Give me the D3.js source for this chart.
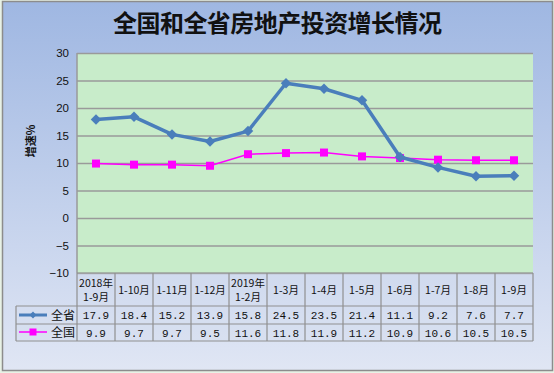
<!DOCTYPE html>
<html>
<head>
<meta charset="utf-8">
<script src="https://cdn.jsdelivr.net/npm/d3@7"></script>
<style>
  body { margin: 0; background: #ffffff; }
  svg { display: block; }
</style>
</head>
<body>
<div id="canvas"></div>
<script>
// periods (table header), two lines each where needed
var periods = [["2018年", "1-9月"], ["1-10月"], ["1-11月"], ["1-12月"], ["2019年", "1-2月"],
  ["1-3月"], ["1-4月"], ["1-5月"], ["1-6月"], ["1-7月"], ["1-8月"], ["1-9月"]];
var provValues = [17.9, 18.4, 15.2, 13.9, 15.8, 24.5, 23.5, 21.4, 11.1, 9.2, 7.6, 7.7];
var natValues = [9.9, 9.7, 9.7, 9.5, 11.6, 11.8, 11.9, 11.2, 10.9, 10.6, 10.5, 10.5];
var yTicks = [-10, -5, 0, 5, 10, 15, 20, 25, 30];

const W = 554, H = 373;
const plot = {left: 77, top: 53, right: 533, bottom: 273};
const tableLeft = 16;
const rowH = [33, 18, 17];

const svg = d3.select("#canvas").append("svg")
  .attr("width", W).attr("height", H);

const defs = svg.append("defs");
const grad = defs.append("linearGradient")
  .attr("id", "bg").attr("x1", 0).attr("y1", 0).attr("x2", 0).attr("y2", 1);
grad.append("stop").attr("offset", "0%").attr("stop-color", "#9fb7e2");
grad.append("stop").attr("offset", "100%").attr("stop-color", "#e0e6f4");

// outer frame
svg.append("rect").attr("x", 0).attr("y", 0).attr("width", W).attr("height", H).attr("fill", "#e8f2e6");
svg.append("rect")
  .attr("x", 2.5).attr("y", 1.5).attr("width", 550).attr("height", 369)
  .attr("fill", "url(#bg)").attr("stroke", "#8c8c8c").attr("stroke-width", 1.5);

// title
svg.append("text")
  .attr("x", 113).attr("y", 32)
  .attr("font-family", "'Noto Sans CJK SC'")
  .attr("font-weight", "bold")
  .attr("font-size", 24)
  .attr("textLength", 329)
  .attr("lengthAdjust", "spacing")
  .attr("fill", "#111")
  .text("全国和全省房地产投资增长情况");

const x = d3.scaleBand()
  .domain(d3.range(periods.length))
  .range([plot.left, plot.right]);

const y = d3.scaleLinear()
  .domain([-10, 30])
  .range([plot.bottom, plot.top]);

// plot area
svg.append("rect")
  .attr("x", plot.left).attr("y", plot.top)
  .attr("width", plot.right - plot.left).attr("height", plot.bottom - plot.top)
  .attr("fill", "#c8ecca");

// gridlines
svg.append("g")
  .attr("transform", "translate(" + plot.left + ",0)")
  .call(d3.axisLeft(y).tickValues(yTicks).tickSize(-(plot.right - plot.left)).tickFormat(""))
  .call(g => g.select(".domain").remove())
  .call(g => g.selectAll("line").attr("stroke", "#9a9a9a").attr("stroke-width", 1.5));

svg.append("line")
  .attr("x1", plot.left).attr("x2", plot.left)
  .attr("y1", plot.top).attr("y2", plot.bottom)
  .attr("stroke", "#9a9a9a").attr("stroke-width", 1.5);

// y axis labels
svg.append("g")
  .attr("transform", "translate(" + (plot.left - 8) + ",0)")
  .call(d3.axisLeft(y).tickValues(yTicks).tickSize(0).tickPadding(0))
  .call(g => g.select(".domain").remove())
  .call(g => g.selectAll("text")
    .attr("font-family", "'Liberation Sans', Arial")
    .attr("font-size", 11.5)
    .attr("fill", "#111"));

svg.append("text")
  .attr("transform", "translate(35,141) rotate(-90)")
  .attr("text-anchor", "middle")
  .attr("font-family", "'Noto Sans CJK SC'")
  .attr("font-weight", "bold")
  .attr("font-size", 11)
  .attr("fill", "#111")
  .text("增速%");

// lines
const line = d3.line()
  .x(function(d, i) { return x(i) + x.bandwidth() / 2; })
  .y(function(d) { return y(d); });

svg.append("path")
  .datum(natValues)
  .attr("d", line)
  .attr("fill", "none").attr("stroke", "#ff00ff").attr("stroke-width", 1.5);

svg.append("g").selectAll("rect")
  .data(natValues).enter().append("rect")
  .attr("x", function(d, i) { return x(i) + x.bandwidth() / 2 - 4; })
  .attr("y", function(d) { return y(d) - 4; })
  .attr("width", 8).attr("height", 8)
  .attr("fill", "#ff00ff");

svg.append("path")
  .datum(provValues)
  .attr("d", line)
  .attr("fill", "none").attr("stroke", "#4a7ebb").attr("stroke-width", 3.5)
  .attr("stroke-linejoin", "round");

svg.append("g").selectAll("path")
  .data(provValues).enter().append("path")
  .attr("d", d3.symbol().type(d3.symbolDiamond2).size(70))
  .attr("transform", function(d, i) {
    return "translate(" + (x(i) + x.bandwidth() / 2) + "," + y(d) + ")";
  })
  .attr("fill", "#4a7ebb");

// data table
const table = svg.append("g");
const tTop = plot.bottom;
const r1 = tTop + rowH[0], r2 = r1 + rowH[1], r3 = r2 + rowH[2];
const gridColor = "#8f8f8f";

table.append("rect")
  .attr("x", plot.left).attr("y", tTop)
  .attr("width", plot.right - plot.left).attr("height", r3 - tTop)
  .attr("fill", "#d4dcef").attr("fill-opacity", 0.35);
table.append("rect")
  .attr("x", tableLeft).attr("y", r1)
  .attr("width", plot.left - tableLeft).attr("height", r3 - r1)
  .attr("fill", "#d4dcef").attr("fill-opacity", 0.35);

function hline(x1, x2, yy) {
  table.append("line").attr("x1", x1).attr("x2", x2).attr("y1", yy).attr("y2", yy)
    .attr("stroke", gridColor).attr("stroke-width", 1.2);
}
function vline(xx, y1, y2) {
  table.append("line").attr("x1", xx).attr("x2", xx).attr("y1", y1).attr("y2", y2)
    .attr("stroke", gridColor).attr("stroke-width", 1.2);
}
hline(plot.left, plot.right, tTop);
hline(tableLeft, plot.right, r1);
hline(tableLeft, plot.right, r2);
hline(tableLeft, plot.right, r3);
vline(tableLeft, r1, r3);
periods.forEach(function(p, i) { vline(x(i), tTop, r3); });
vline(plot.right, tTop, r3);

// header text
periods.forEach(function(p, i) {
  const cx = x(i) + x.bandwidth() / 2;
  const t = table.append("text")
    .attr("text-anchor", "middle")
    .attr("font-family", "'Noto Sans CJK SC'")
    .attr("font-size", 10.5)
    .attr("fill", "#111");
  if (p.length === 2) {
    t.append("tspan").attr("x", cx).attr("y", tTop + 14).text(p[0]);
    t.append("tspan").attr("x", cx).attr("y", tTop + 28).text(p[1]);
  } else {
    t.append("tspan").attr("x", cx).attr("y", tTop + 21).text(p[0]);
  }
});

function rowText(vals, yy) {
  table.append("g").selectAll("text")
    .data(vals).enter().append("text")
    .attr("x", function(d, i) { return x(i) + x.bandwidth() / 2; })
    .attr("y", yy)
    .attr("text-anchor", "middle")
    .attr("font-family", "'Liberation Mono', monospace")
    .attr("font-size", 11)
    .attr("fill", "#111")
    .text(function(d) { return d3.format(".1f")(d); });
}
rowText(provValues, r1 + 13);
rowText(natValues, r2 + 12.5);

// legend keys in table
table.append("line").attr("x1", 19).attr("x2", 47).attr("y1", r1 + 9).attr("y2", r1 + 9)
  .attr("stroke", "#4a7ebb").attr("stroke-width", 3);
table.append("path").attr("d", d3.symbol().type(d3.symbolDiamond2).size(30))
  .attr("transform", "translate(33," + (r1 + 9) + ")").attr("fill", "#4a7ebb");
table.append("line").attr("x1", 19).attr("x2", 47).attr("y1", r2 + 8).attr("y2", r2 + 8)
  .attr("stroke", "#ff00ff").attr("stroke-width", 1.5);
table.append("rect").attr("x", 29.5).attr("y", r2 + 4.5).attr("width", 7).attr("height", 7)
  .attr("fill", "#ff00ff");

[["全省", r1 + 13.5], ["全国", r2 + 12.5]].forEach(function(d) {
  table.append("text")
    .attr("x", 51).attr("y", d[1])
    .attr("font-family", "'Noto Sans CJK SC'")
    .attr("font-size", 12)
    .attr("fill", "#111")
    .text(d[0]);
});
</script>
</body>
</html>
